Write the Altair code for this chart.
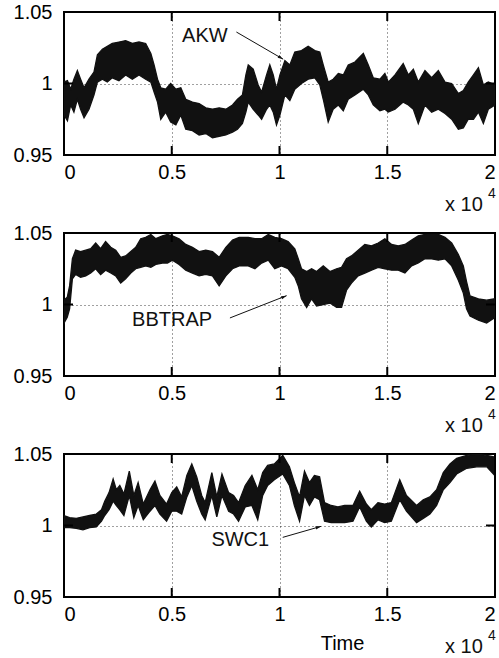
import altair as alt
import pandas as pd

FONT = "Liberation Sans"
W, H = 431, 143

# ---- Panel 1: AKW (x in units of 10^4) ----
x1 = [0.000, 0.016, 0.031, 0.046, 0.062, 0.077, 0.093, 0.116, 0.139, 0.155, 0.178, 0.201, 0.224, 0.255,
      0.286, 0.317, 0.348, 0.379, 0.403, 0.418, 0.434, 0.449, 0.472, 0.495, 0.519, 0.542, 0.565, 0.596,
      0.627, 0.658, 0.689, 0.720, 0.751, 0.782, 0.805, 0.828, 0.844, 0.855, 0.878, 0.901, 0.917, 0.940,
      0.955, 0.971, 0.986, 1.002, 1.025, 1.048, 1.071, 1.102, 1.133, 1.164, 1.187, 1.203, 1.226, 1.249,
      1.273, 1.296, 1.319, 1.350, 1.389, 1.412, 1.435, 1.466, 1.489, 1.505, 1.536, 1.574, 1.598, 1.621,
      1.644, 1.675, 1.706, 1.737, 1.768, 1.799, 1.830, 1.853, 1.876, 1.900, 1.923, 1.946, 1.969, 2.000]
top1 = [1.001, 1.002, 0.996, 1.003, 1.009, 1.003, 0.997, 1.003, 1.008, 1.020, 1.024, 1.026, 1.028, 1.029,
        1.030, 1.028, 1.029, 1.028, 1.021, 1.013, 1.003, 0.997, 0.996, 1.000, 0.996, 0.997, 0.989, 0.987,
        0.986, 0.983, 0.982, 0.983, 0.982, 0.985, 0.989, 0.992, 1.006, 1.013, 1.010, 0.999, 0.994, 1.006,
        1.013, 1.006, 0.996, 1.006, 1.016, 1.013, 1.022, 1.023, 1.026, 1.023, 1.022, 1.013, 1.001, 1.003,
        1.007, 1.006, 1.013, 1.015, 1.021, 1.013, 1.004, 1.003, 1.007, 1.001, 1.006, 1.014, 1.006, 1.010,
        1.001, 1.009, 1.004, 1.009, 1.001, 1.000, 0.993, 0.995, 1.001, 1.006, 1.011, 0.999, 1.001, 0.999]
bot1 = [0.978, 0.974, 0.985, 0.980, 0.989, 0.982, 0.976, 0.982, 0.992, 1.001, 1.003, 1.001, 1.004, 1.002,
        1.006, 1.003, 1.006, 1.003, 1.001, 0.994, 0.987, 0.975, 0.980, 0.973, 0.971, 0.978, 0.968, 0.967,
        0.964, 0.965, 0.962, 0.963, 0.964, 0.966, 0.968, 0.972, 0.980, 0.987, 0.982, 0.978, 0.975, 0.982,
        0.985, 0.980, 0.971, 0.978, 0.992, 0.988, 0.996, 1.000, 1.003, 1.004, 0.999, 0.989, 0.973, 0.982,
        0.985, 0.981, 0.989, 0.992, 0.996, 0.992, 0.985, 0.981, 0.982, 0.980, 0.982, 0.987, 0.985, 0.982,
        0.972, 0.985, 0.980, 0.982, 0.979, 0.975, 0.968, 0.969, 0.975, 0.975, 0.980, 0.972, 0.982, 0.985]

# ---- Panel 2: BBTRAP ----
x2 = [0.000, 0.015, 0.026, 0.039, 0.054, 0.077, 0.101, 0.124, 0.147, 0.170, 0.193, 0.217, 0.240, 0.263,
      0.286, 0.310, 0.333, 0.356, 0.379, 0.403, 0.426, 0.457, 0.480, 0.503, 0.534, 0.565, 0.596, 0.627,
      0.658, 0.689, 0.720, 0.751, 0.782, 0.813, 0.855, 0.886, 0.917, 0.948, 0.978, 1.009, 1.040, 1.071,
      1.087, 1.102, 1.126, 1.149, 1.172, 1.203, 1.234, 1.265, 1.288, 1.311, 1.334, 1.365, 1.396, 1.427,
      1.458, 1.489, 1.520, 1.551, 1.582, 1.613, 1.644, 1.675, 1.706, 1.737, 1.768, 1.799, 1.830, 1.853,
      1.868, 1.884, 1.923, 1.961, 2.000]
top2 = [1.003, 1.005, 1.013, 1.032, 1.038, 1.037, 1.038, 1.039, 1.043, 1.039, 1.044, 1.040, 1.038, 1.033,
        1.034, 1.037, 1.040, 1.046, 1.047, 1.049, 1.046, 1.048, 1.049, 1.048, 1.046, 1.042, 1.040, 1.037,
        1.038, 1.037, 1.033, 1.040, 1.045, 1.047, 1.047, 1.046, 1.046, 1.049, 1.047, 1.046, 1.044, 1.039,
        1.032, 1.025, 1.023, 1.025, 1.023, 1.027, 1.023, 1.025, 1.026, 1.032, 1.034, 1.038, 1.042, 1.041,
        1.043, 1.046, 1.042, 1.041, 1.042, 1.045, 1.048, 1.049, 1.049, 1.049, 1.047, 1.043, 1.035, 1.027,
        1.016, 1.006, 1.004, 1.003, 1.004]
bot2 = [0.987, 0.991, 0.997, 1.018, 1.021, 1.019, 1.020, 1.022, 1.025, 1.021, 1.024, 1.022, 1.020, 1.015,
        1.018, 1.022, 1.025, 1.026, 1.027, 1.026, 1.028, 1.029, 1.029, 1.031, 1.028, 1.024, 1.022, 1.020,
        1.021, 1.020, 1.013, 1.020, 1.025, 1.027, 1.027, 1.025, 1.029, 1.031, 1.025, 1.027, 1.025, 1.019,
        1.013, 1.004, 0.998, 1.004, 0.999, 1.000, 1.001, 0.998, 0.998, 1.010, 1.015, 1.020, 1.022, 1.024,
        1.026, 1.025, 1.024, 1.024, 1.022, 1.027, 1.029, 1.032, 1.032, 1.031, 1.032, 1.027, 1.017, 1.008,
        0.997, 0.992, 0.989, 0.987, 0.991]

# ---- Panel 3: SWC1 ----
x3 = [0.000, 0.026, 0.057, 0.088, 0.119, 0.150, 0.174, 0.189, 0.209, 0.228, 0.243, 0.259, 0.278, 0.303,
      0.324, 0.344, 0.368, 0.399, 0.422, 0.445, 0.476, 0.500, 0.523, 0.546, 0.570, 0.593, 0.616, 0.639,
      0.655, 0.686, 0.709, 0.733, 0.764, 0.787, 0.810, 0.841, 0.872, 0.899, 0.922, 0.945, 0.976, 1.015,
      1.046, 1.069, 1.093, 1.116, 1.139, 1.162, 1.186, 1.209, 1.240, 1.271, 1.302, 1.341, 1.372, 1.403,
      1.426, 1.457, 1.488, 1.519, 1.558, 1.589, 1.636, 1.667, 1.698, 1.729, 1.760, 1.791, 1.822, 1.869,
      1.915, 1.962, 1.993]
top3 = [1.007, 1.0055, 1.005, 1.006, 1.007, 1.008, 1.011, 1.017, 1.023, 1.0325, 1.025, 1.028, 1.022, 1.038,
        1.021, 1.030, 1.015, 1.025, 1.031, 1.021, 1.015, 1.023, 1.027, 1.020, 1.035, 1.043, 1.034, 1.021,
        1.016, 1.037, 1.020, 1.036, 1.023, 1.021, 1.016, 1.028, 1.035, 1.025, 1.037, 1.042, 1.043, 1.049,
        1.041, 1.030, 1.020, 1.038, 1.030, 1.035, 1.034, 1.016, 1.014, 1.013, 1.014, 1.014, 1.024, 1.015,
        1.011, 1.016, 1.015, 1.016, 1.032, 1.021, 1.014, 1.018, 1.020, 1.025, 1.037, 1.043, 1.047, 1.049,
        1.050, 1.049, 1.048]
bot3 = [0.9985, 0.9985, 0.998, 0.997, 0.9985, 0.999, 1.003, 1.007, 1.011, 1.017, 1.014, 1.011, 1.007, 1.021,
        1.0055, 1.014, 1.004, 1.010, 1.014, 1.008, 1.003, 1.010, 1.010, 1.008, 1.020, 1.028, 1.017, 1.008,
        1.004, 1.021, 1.006, 1.021, 1.010, 1.008, 1.003, 1.013, 1.014, 1.004, 1.021, 1.028, 1.032, 1.036,
        1.028, 1.014, 1.003, 1.021, 1.014, 1.020, 1.018, 1.003, 1.002, 1.002, 1.002, 1.003, 1.013, 1.003,
        0.999, 1.004, 1.002, 1.003, 1.018, 1.010, 1.002, 1.005, 1.008, 1.014, 1.025, 1.030, 1.036, 1.040,
        1.041, 1.041, 1.036]

x_ticks = [0, 0.5, 1, 1.5, 2]
y_ticks = [0.95, 1.0, 1.05]
inner_x_ticks = [0.5, 1, 1.5]
inner_y_ticks = [1.0]

# annotations: label, text x/y, arrow start, arrow end, arrowhead angle (style)
labels = ["AKW", "BBTRAP", "SWC1"]
label_x = [0.548, 0.316, 0.684]
label_y = [1.033, 0.989, 0.990]
arrow_x0 = [0.80, 0.77, 1.015]
arrow_y0 = [1.036, 0.9906, 0.9917]
arrow_x1 = [1.017, 1.033, 1.193]
arrow_y1 = [1.017, 1.0062, 0.9994]
head_angle = [30, 338, 344]


def panel(xs, tops, bots, i, show_title):
    xscale = alt.Scale(domain=[0, 2], nice=False, zero=False)
    yscale = alt.Scale(domain=[0.95, 1.05], nice=False, zero=False)
    if show_title:
        ax = alt.Axis(values=x_ticks, format="~g", title="Time", labelPadding=7,
                      titleFontSize=20, titleFont=FONT, titleFontWeight="normal", titleColor="#000",
                      titleX=278, titleY=46, titleAlign="center", titleBaseline="middle")
    else:
        ax = alt.Axis(values=x_ticks, format="~g", title=None, labelPadding=7)
    ay = alt.Axis(values=y_ticks, format="~g", title=None, labelPadding=12)

    def X(f):
        return alt.X(f, scale=xscale, axis=ax)

    def Y(f):
        return alt.Y(f, scale=yscale, axis=ay)

    df = pd.DataFrame({"x": xs, "top": tops, "bot": bots})
    band = alt.Chart(df).mark_area(color="#111", stroke="#111", strokeWidth=1.3, clip=True).encode(
        x=X("x:Q"), y=Y("top:Q"), y2="bot:Q")

    xt = pd.DataFrame({"t": inner_x_ticks})
    yt = pd.DataFrame({"t": inner_y_ticks})
    tick_b = alt.Chart(xt).mark_rule(color="#000", strokeWidth=2).encode(
        x=X("t:Q"), y=alt.value(H), y2=alt.value(H - 9))
    tick_t = alt.Chart(xt).mark_rule(color="#000", strokeWidth=2).encode(
        x=X("t:Q"), y=alt.value(0), y2=alt.value(9))
    tick_l = alt.Chart(yt).mark_rule(color="#000", strokeWidth=2).encode(
        y=Y("t:Q"), x=alt.value(0), x2=alt.value(9))
    tick_r = alt.Chart(yt).mark_rule(color="#000", strokeWidth=2).encode(
        y=Y("t:Q"), x=alt.value(W), x2=alt.value(W - 9))

    ann = pd.DataFrame({"label": [labels[i]], "lx": [label_x[i]], "ly": [label_y[i]],
                        "x0": [arrow_x0[i]], "y0": [arrow_y0[i]],
                        "x1": [arrow_x1[i]], "y1": [arrow_y1[i]]})
    text = alt.Chart(ann).mark_text(font=FONT, fontSize=20, align="left", baseline="middle",
                                    color="#111").encode(x=X("lx:Q"), y=Y("ly:Q"), text="label:N")
    line = alt.Chart(ann).mark_rule(color="#111", strokeWidth=1).encode(
        x=X("x0:Q"), y=Y("y0:Q"), x2="x1:Q", y2="y1:Q")
    head = alt.Chart(ann).mark_point(shape="M 0 0 L -2 -0.6 L -2 0.6 Z", filled=True, color="#111",
                                     size=30, opacity=1, angle=head_angle[i]).encode(
        x=X("x1:Q"), y=Y("y1:Q"))

    exp_df = pd.DataFrame({"a": ["x 10"], "b": ["4"]})
    exp_a = alt.Chart(exp_df).mark_text(font=FONT, fontSize=20, align="left", baseline="middle",
                                        color="#111").encode(
        x=alt.value(381), y=alt.value(50 + H), text="a:N")
    exp_b = alt.Chart(exp_df).mark_text(font=FONT, fontSize=14, align="left", baseline="middle",
                                        color="#111").encode(
        x=alt.value(424), y=alt.value(39 + H), text="b:N")

    return alt.layer(band, tick_b, tick_t, tick_l, tick_r, line, head, text, exp_a, exp_b).properties(
        width=W, height=H)


p1 = panel(x1, top1, bot1, 0, False)
p2 = panel(x2, top2, bot2, 1, False)
p3 = panel(x3, top3, bot3, 2, True)

chart = alt.vconcat(p1, p2, p3, spacing=78, bounds="flush").properties(
    padding={"left": 12, "top": 1, "right": 0, "bottom": 0},
    background="white",
).configure_axis(
    labelFont=FONT, labelFontSize=20, labelColor="#000", grid=True, gridColor="#000",
    gridDash=[1, 3], gridOpacity=0.75, gridWidth=1, domain=False, ticks=False,
).configure_view(stroke="#000", strokeWidth=2)

chart.save("out.html", embed_options={"renderer": "svg", "actions": False})
